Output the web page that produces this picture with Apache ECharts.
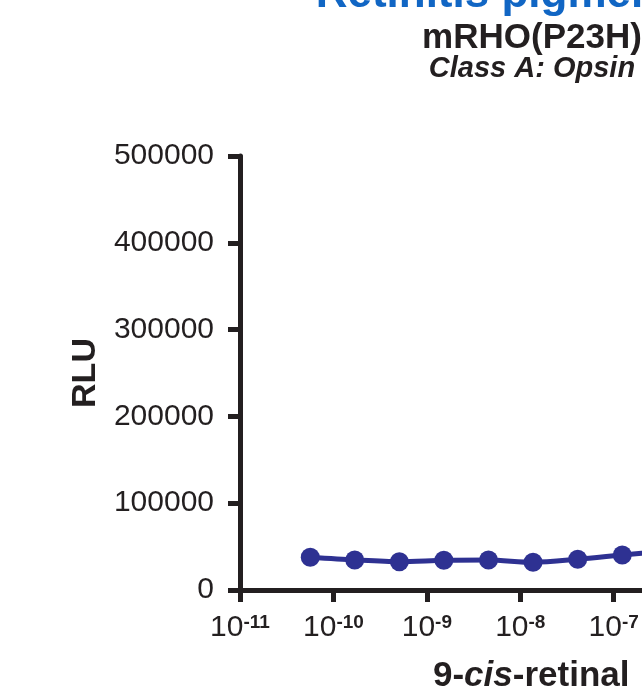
<!DOCTYPE html>
<html>
<head>
<meta charset="utf-8">
<script src="https://cdn.jsdelivr.net/npm/echarts@6/dist/echarts.min.js"></script>
<style>
    html, body { margin: 0; padding: 0; background: #fff; }
    #main { width: 642px; height: 693px; }
</style>
</head>
<body>
<div id="main"></div>
<script>
    // dose (M) and luminescence
    var doses = [5.65e-11, 1.69e-10, 5.08e-10, 1.52e-9, 4.57e-9, 1.37e-8, 4.12e-8, 1.235e-7, 3.7e-7];
    var rlu = [37700, 34600, 32600, 34200, 34600, 31900, 35400, 40300, 45000];
    var yTicks = [0, 100000, 200000, 300000, 400000, 500000];
    var xRange = [1e-11, 1e-4];

    var ink = '#231f20';
    var blue = '#2e3192';
    var font = '"Liberation Sans", Arial, Helvetica, sans-serif';

    var myChart = echarts.init(document.getElementById('main'));

    var points = [];
    for (var i = 0; i < doses.length; i++) {
        points.push([doses[i], rlu[i]]);
    }

    var option = {
        animation: false,
        backgroundColor: '#fff',
        grid: {
            left: 240,
            top: 156,
            bottom: 103,
            right: -252,
            containLabel: false,
            outerBoundsMode: 'none'
        },
        xAxis: {
            type: 'log',
            logBase: 10,
            min: xRange[0],
            max: xRange[1],
            splitNumber: 7,
            splitLine: { show: false },
            axisLine: { lineStyle: { color: ink, width: 5 } },
            axisTick: { length: 12, lineStyle: { color: ink, width: 5 } },
            axisLabel: {
                margin: 23,
                showMinLabel: true,
                hideOverlap: false,
                formatter: function (v) {
                    return '{m|10}{s|' + Math.round(Math.log10(v)) + '}';
                },
                rich: {
                    m: { fontFamily: font, fontSize: 30, color: ink },
                    s: { fontFamily: font, fontSize: 19, fontWeight: 'bold', color: ink, verticalAlign: 'top' }
                }
            }
        },
        yAxis: {
            type: 'value',
            min: yTicks[0],
            max: yTicks[yTicks.length - 1],
            interval: yTicks[1] - yTicks[0],
            splitLine: { show: false },
            axisLine: { show: true, lineStyle: { color: ink, width: 5 } },
            axisTick: { show: true, length: 12, lineStyle: { color: ink, width: 5 } },
            axisLabel: {
                margin: 26, fontFamily: font, fontSize: 30, color: ink,
                formatter: function (v) { return String(v); }
            },
            name: 'RLU',
            nameLocation: 'middle',
            nameGap: 120,
            nameTextStyle: { fontFamily: font, fontSize: 34, fontWeight: 'bold', color: ink }
        },
        graphic: [
            {
                type: 'text', x: 532, y: -5,
                style: {
                    text: 'Retinitis pigmentosa', fill: '#1166c4',
                    font: 'bold 44px ' + font, textAlign: 'center', textVerticalAlign: 'middle'
                }
            },
            {
                type: 'text', x: 532, y: 38,
                style: {
                    text: 'mRHO(P23H)', fill: ink,
                    font: 'bold 35px ' + font, textAlign: 'center', textVerticalAlign: 'middle'
                }
            },
            {
                type: 'text', x: 532, y: 69,
                style: {
                    text: 'Class A: Opsin', fill: ink,
                    font: 'italic bold 29px ' + font, textAlign: 'center', textVerticalAlign: 'middle'
                }
            },
            {
                type: 'text', x: 433, y: 676,
                style: {
                    text: '{b|9-}{i|cis}{b|-retinal}',
                    textAlign: 'left', textVerticalAlign: 'middle',
                    rich: {
                        b: { fontFamily: font, fontSize: 35, fontWeight: 'bold', fill: ink, color: ink },
                        i: { fontFamily: font, fontSize: 35, fontWeight: 'bold', fontStyle: 'italic', fill: ink, color: ink }
                    }
                }
            }
        ],
        series: [{
            type: 'line',
            data: points,
            smooth: 0.3,
            symbol: 'circle',
            symbolSize: 19,
            itemStyle: { color: blue },
            lineStyle: { color: blue, width: 5 }
        }]
    };

    myChart.setOption(option);
</script>
</body>
</html>
